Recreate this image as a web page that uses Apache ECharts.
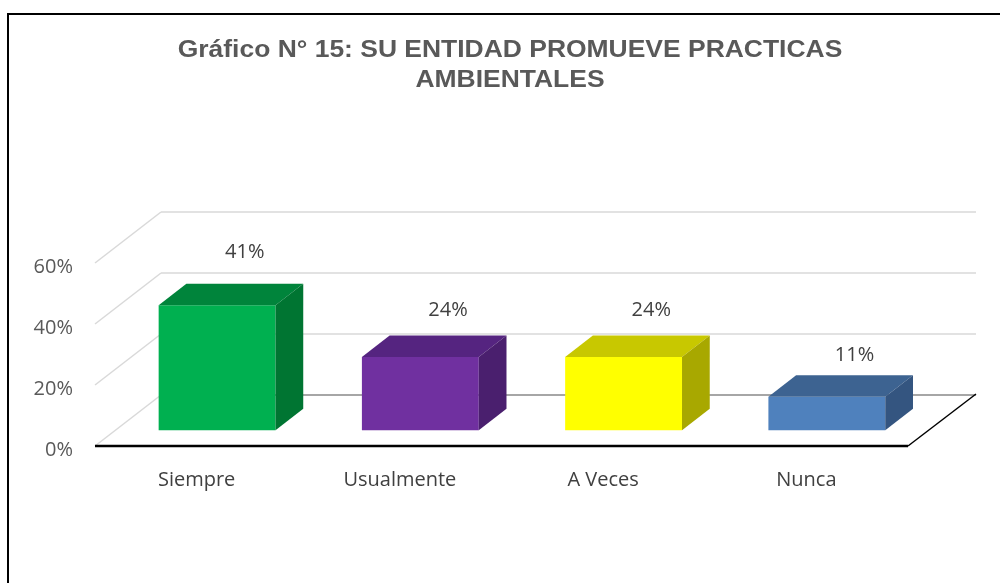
<!DOCTYPE html>
<html>
<head>
<meta charset="utf-8">
<script src="https://cdn.jsdelivr.net/npm/echarts@6/dist/echarts.min.js"></script>
<style>
  html, body { margin: 0; padding: 0; background: #fff; }
  #chart { width: 1000px; height: 583px; }
</style>
</head>
<body>
<div id="chart"></div>
<script>
// datos
let categories = ['Siempre', 'Usualmente', 'A Veces', 'Nunca'];
let values = [0.41, 0.24, 0.24, 0.11];
let y_ticks = [0, 0.2, 0.4, 0.6];
let front_colors = ['#00B050', '#7030A0', '#FFFF00', '#4F81BD'];
let top_colors = ['#00843B', '#552480', '#C8C800', '#3D6391'];
let side_colors = ['#007532', '#4A1F6E', '#A8A800', '#345580'];

// proyeccion 3d (px)
let DX = 66, DY = -51;
let F1 = 0.31, F2 = 0.73; // profundidad de la barra
let BAR_W = 0.575;

let chart = echarts.init(document.getElementById('chart'));

// paredes y piso
function render_wall(params, api) {
	let cs = params.coordSys;
	let t = api.value(1);
	let p = api.coord([0, t]);
	let x0 = cs.x, x1 = cs.x + cs.width, y = p[1];
	let children = [];
	let is_floor = t === 0;
	children.push({
		type: 'line',
		shape: { x1: x0 + DX, y1: y + DY, x2: x1 + DX + 2, y2: y + DY },
		style: { stroke: is_floor ? '#a6a6a6' : '#d9d9d9', lineWidth: is_floor ? 2 : 1.5 },
	});
	children.push({
		type: 'line',
		shape: { x1: x0, y1: y, x2: x0 + DX, y2: y + DY },
		style: { stroke: '#d9d9d9', lineWidth: 1.5 },
	});
	if (is_floor) {
		children.push({
			type: 'line',
			shape: { x1: x0, y1: y, x2: x1, y2: y },
			style: { stroke: '#000', lineWidth: 2.5 },
		});
		children.push({
			type: 'line',
			shape: { x1: x1, y1: y, x2: x1 + DX + 2, y2: y + DY - 1 },
			style: { stroke: '#000', lineWidth: 1.5 },
		});
	}
	return { type: 'group', children: children };
}

// barras 3d
function render_bar(params, api) {
	let i = api.value(0), v = api.value(1);
	let base = api.coord([i, 0]);
	let top = api.coord([i, v]);
	let band = api.size([1, 0])[0];
	let w = band * BAR_W;
	let fx = DX * F1, fy = DY * F1;
	let bx = DX * (F2 - F1), by = DY * (F2 - F1);
	let x0 = base[0] - w / 2 + fx, x1 = x0 + w;
	let yb = base[1] + fy, yt = top[1] + fy;
	let idx = params.dataIndex;
	return {
		type: 'group',
		children: [
			{
				type: 'rect',
				shape: { x: x0, y: yt, width: w, height: yb - yt },
				style: { fill: front_colors[idx] },
			},
			{
				type: 'polygon',
				shape: { points: [[x0, yt], [x1, yt], [x1 + bx, yt + by], [x0 + bx, yt + by]] },
				style: { fill: top_colors[idx] },
			},
			{
				type: 'polygon',
				shape: { points: [[x1, yt], [x1 + bx, yt + by], [x1 + bx, yb + by], [x1, yb]] },
				style: { fill: side_colors[idx] },
			},
			{
				type: 'text',
				x: (x0 + x1) / 2 + bx,
				y: yt + by - (16 + 38 * v),
				style: {
					text: Math.round(v * 100) + '%',
					fill: '#404040',
					font: '20px "Open Sans", sans-serif',
					align: 'center',
					verticalAlign: 'middle',
				},
			},
		],
	};
}

let title_font = 'bold 23px "Liberation Sans", Arial, sans-serif';

let option = {
	animation: false,
	backgroundColor: '#fff',
	grid: { left: 95, right: 92, top: 263, bottom: 137 },
	graphic: [
		{
			type: 'rect',
			shape: { x: 8, y: 14, width: 1010, height: 600 },
			style: { fill: 'none', stroke: '#000', lineWidth: 2 },
			silent: true,
		},
		{
			type: 'text',
			x: 510,
			y: 51,
			scaleX: 1.15,
			style: {
				text: 'Gráfico N° 15: SU ENTIDAD PROMUEVE PRACTICAS',
				fill: '#595959',
				font: title_font,
				align: 'center',
				verticalAlign: 'middle',
			},
		},
		{
			type: 'text',
			x: 510,
			y: 81,
			scaleX: 1.15,
			style: {
				text: 'AMBIENTALES',
				fill: '#595959',
				font: title_font,
				align: 'center',
				verticalAlign: 'middle',
			},
		},
	],
	xAxis: {
		type: 'category',
		data: categories,
		axisLine: { show: false },
		axisTick: { show: false },
		axisLabel: { color: '#404040', fontSize: 20, fontFamily: 'Open Sans', margin: 24 },
	},
	yAxis: {
		type: 'value',
		min: 0,
		max: 0.6,
		interval: 0.2,
		axisLine: { show: false },
		splitLine: { show: false },
		axisLabel: {
			margin: 22,
			formatter: (v) => '{a|' + Math.round(v * 100) + '%}',
			rich: {
				a: {
					color: '#595959',
					fontSize: 20,
					fontFamily: 'Open Sans',
					padding: [8, 0, 0, 0],
				},
			},
		},
	},
	series: [
		{
			type: 'custom',
			z: 1,
			clip: false,
			renderItem: render_wall,
			data: y_ticks.map((t) => [0, t]),
			silent: true,
		},
		{
			type: 'custom',
			z: 2,
			clip: false,
			renderItem: render_bar,
			data: values.map((v, i) => [i, v]),
		},
	],
};
chart.setOption(option);
</script>
</body>
</html>
